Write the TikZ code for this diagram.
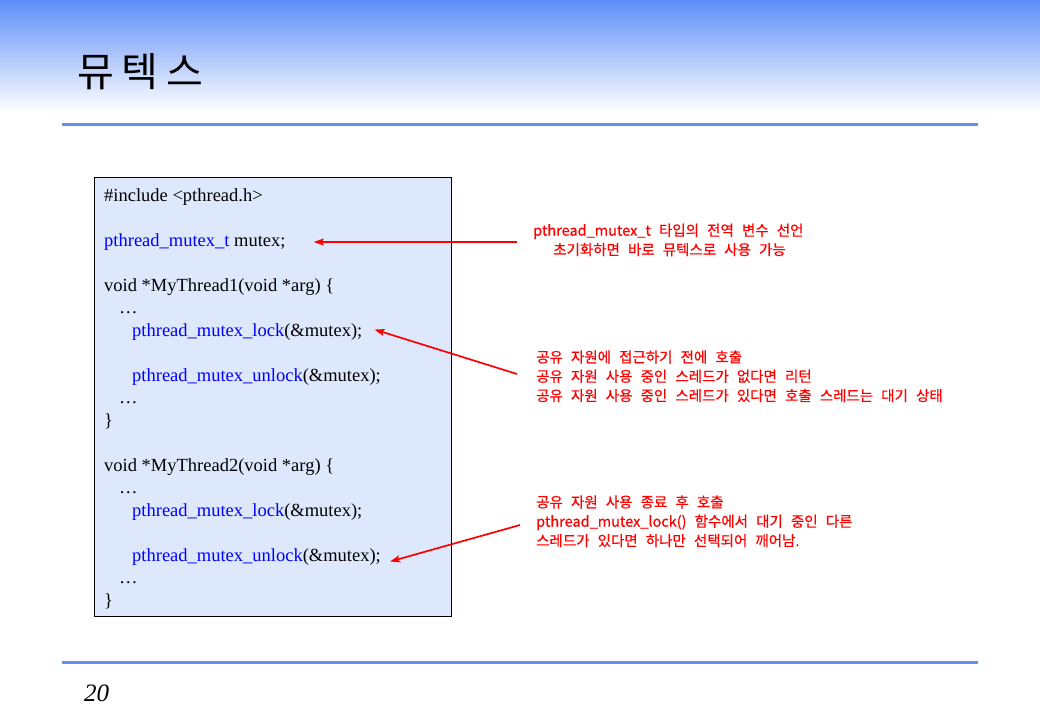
\documentclass[tikz,border=0pt]{standalone}
\usepackage{fontspec}
\setmainfont{Liberation Serif}
\newfontfamily\kofont[WordSpace=2.5, FakeBold=0.6]{Noto Sans CJK KR}
\newfontfamily\titlefont[LetterSpace=19]{Noto Sans CJK KR}
\usepackage{tikz}
\usetikzlibrary{arrows,arrows.meta,shapes}
\usetikzlibrary{positioning}
\definecolor{slideblue}{RGB}{94,142,248}
\definecolor{rulerblue}{RGB}{100,142,240}
\definecolor{codebg}{RGB}{221,232,253}
\tikzstyle{codeline} = [anchor=base west, inner sep=0pt, font=\fontsize{18.5}{22}\selectfont]
\tikzstyle{note} = [anchor=base west, align=left, text=red, inner sep=0pt, font=\kofont\fontsize{14.5}{19.3}\selectfont]
\tikzstyle{pointer} = [red, line width=1.7pt, -{Stealth[length=10pt, width=7pt, inset=2pt]}]
\tikzstyle{ruler} = [rulerblue, line width=3pt]
\newcommand{\kw}[1]{\textcolor{blue}{#1}}

\begin{document}
\begin{tikzpicture}[x=1pt, y=-1pt]
    \useasboundingbox (0,0) rectangle (1040,720);
    \shade[top color=slideblue, bottom color=white] (0,0) rectangle (1040,112);
    \node[anchor=west, inner sep=0pt, font=\titlefont\fontsize{40}{44}\selectfont] (title) at (77,72) {뮤텍스};
    \draw[ruler] (62,124) -- (978,124);
    \draw[ruler] (62,662) -- (978,662);
    \node[anchor=base west, inner sep=0pt, font=\itshape\fontsize{25}{28}\selectfont] (page) at (84,701) {20};

    % code box
    \node[draw=black, fill=codebg, minimum width=357pt, minimum height=439pt, anchor=north west, inner sep=0pt] (codebox) at (94,177) {};
    \node[codeline] (incl) at (104,201) {\#include <pthread.h>};
    \node[codeline] (decl) at (104,246) {\kw{pthread\_mutex\_t} mutex;};
    \node[codeline] (fna) at (104,291) {void *MyThread1(void *arg) \{};
    \node[codeline] (dotsa) at (119,313) {…};
    \node[codeline] (locka) at (132,336) {\kw{pthread\_mutex\_lock}(\&mutex);};
    \node[codeline] (unlocka) at (132,381) {\kw{pthread\_mutex\_unlock}(\&mutex);};
    \node[codeline] (dotsb) at (119,403) {…};
    \node[codeline] (enda) at (104,426) {\}};
    \node[codeline] (fnb) at (104,471) {void *MyThread2(void *arg) \{};
    \node[codeline] (dotsc) at (119,493) {…};
    \node[codeline] (lockb) at (132,516) {\kw{pthread\_mutex\_lock}(\&mutex);};
    \node[codeline] (unlockb) at (132,561) {\kw{pthread\_mutex\_unlock}(\&mutex);};
    \node[codeline] (dotsd) at (119,583) {…};
    \node[codeline] (endb) at (104,606) {\}};

    % notes
    \node[note] (notedecl) at (533,255) {pthread\_mutex\_t 타입의 전역 변수 선언\\
        \hspace{20pt}초기화하면 바로 뮤텍스로 사용 가능};
    \node[note] (notelock) at (536,401) {공유 자원에 접근하기 전에 호출\\
        공유 자원 사용 중인 스레드가 없다면 리턴\\
        공유 자원 사용 중인 스레드가 있다면 호출 스레드는 대기 상태};
    \node[note] (noteunlock) at (536,546) {공유 자원 사용 종료 후 호출\\
        pthread\_mutex\_lock() 함수에서 대기 중인 다른\\
        스레드가 있다면 하나만 선택되어 깨어남.};

    \coordinate (taila) at (517,242);
    \coordinate (tailb) at (517,374);
    \coordinate (tailc) at (520,525);
    \draw[pointer] (taila) -- ([xshift=28pt]decl.east |- taila);
    \draw[pointer] (tailb) -- ([xshift=12pt,yshift=2pt]locka.east);
    \draw[pointer] (tailc) -- ([xshift=9pt,yshift=-5pt]unlockb.east);
\end{tikzpicture}
\end{document}
